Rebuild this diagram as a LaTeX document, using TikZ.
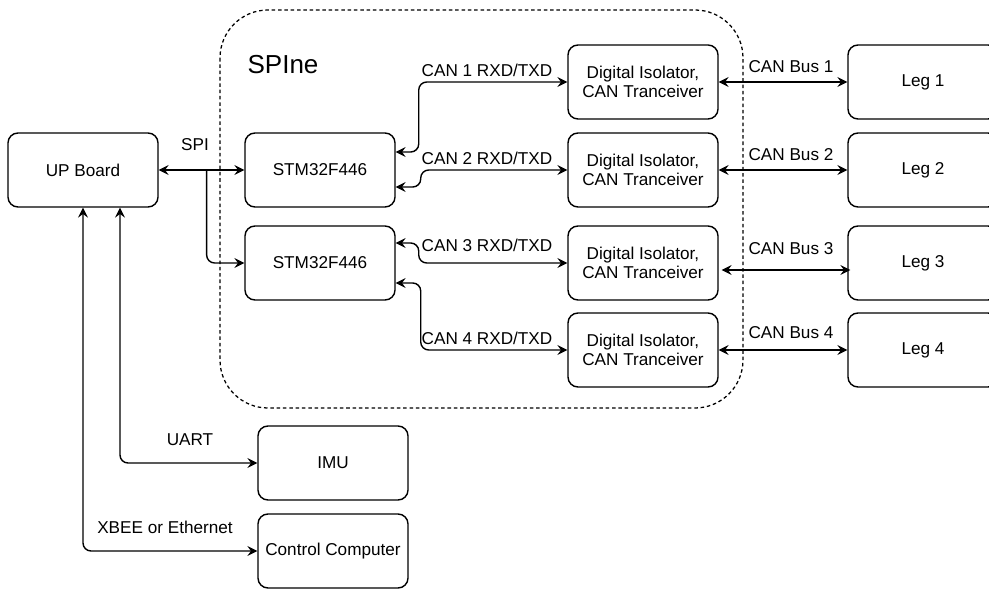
\documentclass[tikz,border=0pt]{standalone}
\usepackage{fontspec}
\setmainfont{Liberation Sans}
\usetikzlibrary{arrows.meta,calc}

\tikzset{
  box/.style={draw, rounded corners=0.25cm, line width=1pt, minimum width=3.75cm,
    minimum height=1.85cm, align=center, font=\fontsize{12.2}{14}\selectfont},
  link/.style={line width=1pt, rounded corners=0.2cm,
    >={Stealth[length=7pt,width=7pt,inset=2.5pt]}},
  lbl/.style={font=\fontsize{12.2}{14}\selectfont, inner sep=1pt}
}

\begin{document}
\begin{tikzpicture}[x=0.025cm, y=-0.025cm]
  \useasboundingbox (0,0) rectangle (989,590);
  % SPIne area
  \draw[line width=0.9pt, dash pattern=on 2.5pt off 2pt, rounded corners=1.2cm]
    (220,10) rectangle (743,408);
  \node[font=\fontsize{18.5}{22}\selectfont] (spine) at (283,65) {SPIne};
  % boxes
  \node[box] (up) at (83,170) {UP Board};
  \node[box] (stma) at (320,170) {STM32F446};
  \node[box] (stmb) at (320,263) {STM32F446};
  \node[box] (dia) at (643,82) {Digital Isolator,\\CAN Tranceiver};
  \node[box] (dib) at (643,170) {Digital Isolator,\\CAN Tranceiver};
  \node[box] (dic) at (643,263) {Digital Isolator,\\CAN Tranceiver};
  \node[box] (did) at (643,350) {Digital Isolator,\\CAN Tranceiver};
  \node[box] (lega) at (923,82) {Leg 1};
  \node[box] (legb) at (923,170) {Leg 2};
  \node[box] (legc) at (923,263) {Leg 3};
  \node[box] (legd) at (923,350) {Leg 4};
  \node[box] (imu) at (333,463) {IMU};
  \node[box] (cc) at (333,551) {Control Computer};
  % SPI
  \draw[link,<->] (up.east) -- (stma.west);
  \coordinate (spi) at ($(up.east)!0.56!(stma.west)$);
  \draw[link,->] (spi) |- (stmb.west);
  \node[lbl] (spil) at (195,145) {SPI};
  % CAN lines
  \draw[link,<->] ($(stma.east)+(0,-18)$) -- ++(23,0) |- (dia.west);
  \draw[link,<->] ($(stma.east)+(0,17)$) -- ++(25,0) |- (dib.west);
  \draw[link,<->] ($(stmb.east)+(0,-20)$) -- ++(23,0) |- (dic.west);
  \draw[link,<->] ($(stmb.east)+(0,20)$) -- ++(25,0) |- (did.west);
  \node[lbl] (cana) at (487,70) {CAN 1 RXD/TXD};
  \node[lbl] (canb) at (487,158) {CAN 2 RXD/TXD};
  \node[lbl] (canc) at (487,245) {CAN 3 RXD/TXD};
  \node[lbl] (cand) at (487,338) {CAN 4 RXD/TXD};
  % CAN buses
  \draw[link,<->] (dia.east) -- (lega.west);
  \draw[link,<->] (dib.east) -- (legb.west);
  \draw[link,<->] ($(dic.east)+(3,7)$) -- ($(legc.west)+(3,7)$);
  \draw[link,<->] (did.east) -- (legd.west);
  \node[lbl] (busa) at (791,67) {CAN Bus 1};
  \node[lbl] (busb) at (791,155) {CAN Bus 2};
  \node[lbl] (busc) at (791,249) {CAN Bus 3};
  \node[lbl] (busd) at (791,333) {CAN Bus 4};
  % UART and XBEE
  \draw[link,<->] ($(up.south)+(37,0)$) |- (imu.west);
  \draw[link,<->] (up.south) |- (cc.west);
  \node[lbl] (uart) at (190,440) {UART};
  \node[lbl] (xbee) at (165,527) {XBEE or Ethernet};
\end{tikzpicture}
\end{document}
